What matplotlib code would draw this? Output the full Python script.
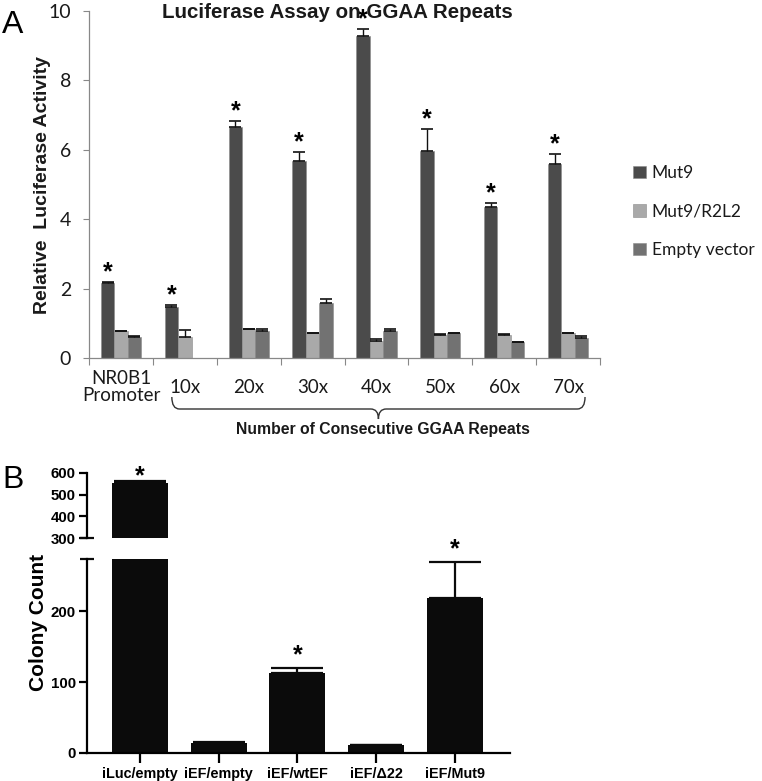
import numpy as np
import matplotlib

matplotlib.use("Agg")
import matplotlib.pyplot as plt
from matplotlib.path import Path
from matplotlib.patches import PathPatch
import matplotlib.transforms as mtransforms

# ---- panel A data ----
groups_a = ["NR0B1\nPromoter", "10x", "20x", "30x", "40x", "50x", "60x", "70x"]
series_a = ["Mut9", "Mut9/R2L2", "Empty vector"]
mut9 = [2.16, 1.46, 6.66, 5.68, 9.28, 5.97, 4.36, 5.58]
mut9_err = [0.02, 0.06, 0.17, 0.25, 0.20, 0.63, 0.12, 0.29]
r2l2 = [0.78, 0.60, 0.84, 0.72, 0.49, 0.66, 0.66, 0.71]
r2l2_err = [0.01, 0.20, 0.01, 0.01, 0.06, 0.02, 0.02, 0.02]
empty = [0.60, np.nan, 0.78, 1.58, 0.78, 0.71, 0.46, 0.58]
empty_err = [0.02, np.nan, 0.05, 0.13, 0.07, 0.01, 0.01, 0.04]
yticks_a = [0, 2, 4, 6, 8, 10]

# ---- panel B data ----
groups_b = ["iLuc/empty", "iEF/empty", "iEF/wtEF", "iEF/\u039422", "iEF/Mut9"]
colonies = [553, 14, 113, 11, 219]
colonies_err = [8, 1, 7, 0, 51]
star_b = [True, False, True, False, True]
upper_ticks = [300, 400, 500, 600]
lower_ticks = [0, 100, 200]

W, H = 762, 781
fig = plt.figure(figsize=(W / 100, H / 100), dpi=100)


def fx(px):
    return px / W


def fy(py):
    return 1 - py / H


calib = ["Lato", "DejaVu Sans"]
arial = ["Liberation Sans", "DejaVu Sans"]

# ================= Panel A =================
axa = fig.add_axes([fx(89), fy(358), fx(600) - fx(89), fy(11) - fy(358)])
x = np.arange(len(groups_a))
w = 0.21
colors = ["#4b4b4b", "#a9a9a9", "#727272"]
vals = [mut9, r2l2, empty]
errs = [mut9_err, r2l2_err, empty_err]
handles = []
for k, (v, e, c, lab) in enumerate(zip(vals, errs, colors, series_a)):
    xs = x + (k - 1) * w
    v = np.array(v, dtype=float)
    e = np.array(e, dtype=float)
    b = axa.bar(xs, np.nan_to_num(v), w, color=c, edgecolor="#8a8a8a",
                linewidth=0.4, label=lab, zorder=2)
    handles.append(b)
    axa.errorbar(xs, v, yerr=[np.zeros_like(e), e], fmt="none", ecolor="#111111",
                 elinewidth=1.0, capsize=4.5, capthick=1.2, zorder=3)
    if k == 0:
        for xi, vi, ei in zip(xs, v, e):
            axa.text(xi, vi + ei + 0.28, "*", ha="center", va="center",
                     fontsize=18, fontweight="bold", family=arial)

axa.set_xlim(-0.5, len(groups_a) - 0.5)
axa.set_ylim(0, 10)
axa.set_yticks(yticks_a)
axa.set_yticklabels([str(t) for t in yticks_a], family=calib, fontsize=14, color="#1a1a1a")
axa.tick_params(axis="y", length=4, width=0.8, color="#888888", pad=9)
axa.set_xticks(x)
axa.set_xticklabels(groups_a, family=calib, fontsize=13.5, color="#1a1a1a")
for lbl in axa.get_xticklabels():
    lbl.set_va("center")
    lbl.set_linespacing(1.0)
axa.tick_params(axis="x", which="major", length=0, pad=21)
axa.set_xticks(np.arange(-0.5, len(groups_a)), minor=True)
axa.tick_params(axis="x", which="minor", length=5, width=0.8, color="#888888", direction="out")
for s in ["top", "right"]:
    axa.spines[s].set_visible(False)
for s in ["left", "bottom"]:
    axa.spines[s].set_color("#888888")
    axa.spines[s].set_linewidth(0.9)

axa.legend(handles=handles, labels=series_a, loc="upper left",
           bbox_to_anchor=(fx(633), fy(165)), bbox_transform=fig.transFigure,
           frameon=False, borderpad=0, borderaxespad=0,
           handlelength=0.72, handleheight=0.72, handletextpad=0.35,
           labelspacing=1.3, prop={"family": calib, "size": 12.5})
for t in axa.get_legend().get_texts():
    t.set_color("#1a1a1a")

# curly brace under 10x..70x
tr = mtransforms.blended_transform_factory(axa.transData, fig.transFigure)
x0, x1 = 0.5 + (172 - 153) / 64, 7.5 - (600 - 585) / 64
xm = (x0 + x1) / 2
ytop, ymid, ytip = fy(397), fy(409), fy(419)
dx = 0.12
verts = [(x0, ytop), (x0, ymid), (x0 + dx, ymid),
         (xm - dx, ymid), (xm, ymid), (xm, ytip),
         (xm, ymid), (xm + dx, ymid),
         (x1 - dx, ymid), (x1, ymid), (x1, ytop)]
codes = [Path.MOVETO, Path.CURVE3, Path.CURVE3,
         Path.LINETO, Path.CURVE3, Path.CURVE3,
         Path.CURVE3, Path.CURVE3,
         Path.LINETO, Path.CURVE3, Path.CURVE3]
axa.add_patch(PathPatch(Path(verts, codes), transform=tr, fill=False,
                        edgecolor="#333333", linewidth=1.0, clip_on=False))

fig.text(fx(383), fy(430), "Number of Consecutive GGAA Repeats", ha="center", va="center",
         fontsize=11.3, fontweight="bold", family=arial, color="#1a1a1a")
fig.text(fx(337), fy(12), "Luciferase Assay on GGAA Repeats", ha="center", va="center",
         fontsize=14.8, fontweight="bold", family=arial, color="#1a1a1a")
fig.text(fx(43), fy(185), "Relative  Luciferase Activity", rotation=90, ha="center",
         va="center", fontsize=14, fontweight="bold", family=arial, color="#1a1a1a")
fig.text(fx(2), fy(33), "A", fontsize=23, family=arial, va="baseline", ha="left")

# ================= Panel B =================
xb = np.arange(len(groups_b))
wb = 0.71
lw = 1.6
ax_up = fig.add_axes([fx(87), fy(538), fx(510) - fx(87), fy(473) - fy(538)])
ax_lo = fig.add_axes([fx(87), fy(753), fx(510) - fx(87), fy(559) - fy(753)])

for ax in (ax_up, ax_lo):
    ax.bar(xb, colonies, wb, color="#0b0b0b", zorder=2)
    ax.errorbar(xb, colonies, yerr=[np.zeros(len(colonies)), colonies_err], fmt="none",
                ecolor="#0b0b0b", elinewidth=lw, capsize=19, capthick=lw, zorder=3)
    ax.set_xlim(-0.67, len(groups_b) - 0.3)
    for s in ["top", "right"]:
        ax.spines[s].set_visible(False)
    ax.spines["left"].set_linewidth(lw)
    ax.tick_params(axis="y", length=6, width=lw, pad=2)

ax_up.set_ylim(300, 600)
ax_up.set_yticks(upper_ticks)
ax_up.set_yticklabels([str(t) for t in upper_ticks], fontsize=10.8, fontweight="bold", family=arial)
ax_up.spines["bottom"].set_visible(False)
ax_up.set_xticks([])

ax_lo.set_ylim(0, 274)
ax_lo.set_yticks(lower_ticks)
ax_lo.set_yticklabels([str(t) for t in lower_ticks], fontsize=10.8, fontweight="bold", family=arial)
ax_lo.spines["bottom"].set_linewidth(lw)
ax_lo.set_xticks(xb)
ax_lo.set_xticklabels(groups_b, fontsize=10.4, fontweight="bold", family=arial)
ax_lo.tick_params(axis="x", length=7, width=lw, pad=3)

# axis break marks
ax_up.plot([-0.017, 0.017], [0, 0], transform=ax_up.transAxes, color="#0b0b0b",
           linewidth=lw, clip_on=False, solid_capstyle="butt")
ax_lo.plot([-0.017, 0.017], [1, 1], transform=ax_lo.transAxes, color="#0b0b0b",
           linewidth=lw, clip_on=False, solid_capstyle="butt")

for xi, v, e, s in zip(xb, colonies, colonies_err, star_b):
    if not s:
        continue
    ax = ax_up if v > 300 else ax_lo
    off = 25 if ax is ax_up else 18
    ax.text(xi, v + e + off, "*", ha="center", va="center", fontsize=18,
            fontweight="bold", family=arial, clip_on=False)

fig.text(fx(39), fy(622), "Colony Count", rotation=90, ha="center", va="center",
         fontsize=15, fontweight="bold", family=arial)
fig.text(fx(2), fy(488), "B", fontsize=23, family=arial, va="baseline", ha="left")

fig.savefig("out.png", dpi=100)
